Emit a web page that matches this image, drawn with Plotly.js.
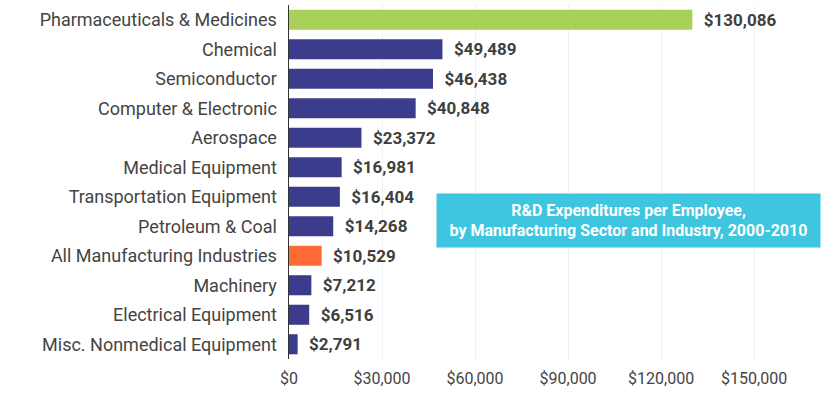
<!DOCTYPE html>
<html>
<head>
<meta charset="utf-8">
<script src="https://cdn.plot.ly/plotly-3.0.1.min.js"></script>
<style>html,body{margin:0;padding:0;background:#fff;}#chart{width:836px;height:399px;}</style>
</head>
<body>
<div id="chart"></div>
<script>
const categories = [
  "Pharmaceuticals & Medicines",
  "Chemical",
  "Semiconductor",
  "Computer & Electronic",
  "Aerospace",
  "Medical Equipment",
  "Transportation Equipment",
  "Petroleum & Coal",
  "All Manufacturing Industries",
  "Machinery",
  "Electrical Equipment",
  "Misc. Nonmedical Equipment"
];
const values = [130086, 49489, 46438, 40848, 23372, 16981, 16404, 14268, 10529, 7212, 6516, 2791];
const barColors = ["#a9d15a","#3c3c8c","#3c3c8c","#3c3c8c","#3c3c8c","#3c3c8c","#3c3c8c","#3c3c8c","#ff6b35","#3c3c8c","#3c3c8c","#3c3c8c"];
const tickValues = [0, 30000, 60000, 90000, 120000, 150000];
const tickLabels = ["$0", "$30,000", "$60,000", "$90,000", "$120,000", "$150,000"];
const boxTitle = "R&D Expenditures per Employee,<br>by Manufacturing Sector and Industry, 2000-2010";

const trace = {
  type: "bar",
  orientation: "h",
  y: categories,
  x: values,
  marker: {color: barColors},
  texttemplate: "\u00a0\u00a0<b>$%{x:,}</b>",
  textposition: "outside",
  cliponaxis: false,
  textfont: {family: "Roboto, sans-serif", size: 17, color: "#3f3f3f"},
  hoverinfo: "none"
};

const layout = {
  width: 836, height: 399,
  margin: {l: 289, r: 5, t: 5, b: 40},
  paper_bgcolor: "#fff", plot_bgcolor: "#fff",
  bargap: 0.32,
  showlegend: false,
  xaxis: {
    range: [0, 174800],
    tickvals: tickValues,
    ticktext: tickLabels,
    showgrid: true, gridcolor: "#f0f0f0", gridwidth: 1,
    zeroline: false, showline: false,
    ticks: "", ticklabelstandoff: 8,
    tickfont: {family: "Roboto, sans-serif", size: 16, color: "#444"}
  },
  yaxis: {
    autorange: "reversed",
    showline: true, linecolor: "#333", linewidth: 1.5,
    showgrid: false, zeroline: false,
    ticks: "", ticklabelstandoff: 7,
    tickfont: {family: "Roboto, sans-serif", size: 18, color: "#444"}
  },
  annotations: [{
    xref: "paper", yref: "paper",
    x: 0.6255, y: 0.39,
    xanchor: "center", yanchor: "middle",
    text: "<b>" + boxTitle + "</b>",
    showarrow: false,
    bgcolor: "#3ec5df",
    width: 377, height: 47,
    borderpad: 3,
    align: "center",
    font: {family: "Roboto, sans-serif", size: 16, color: "#fff"}
  }]
};

Plotly.newPlot("chart", [trace], layout, {displayModeBar: false, staticPlot: true});
</script>
</body>
</html>
